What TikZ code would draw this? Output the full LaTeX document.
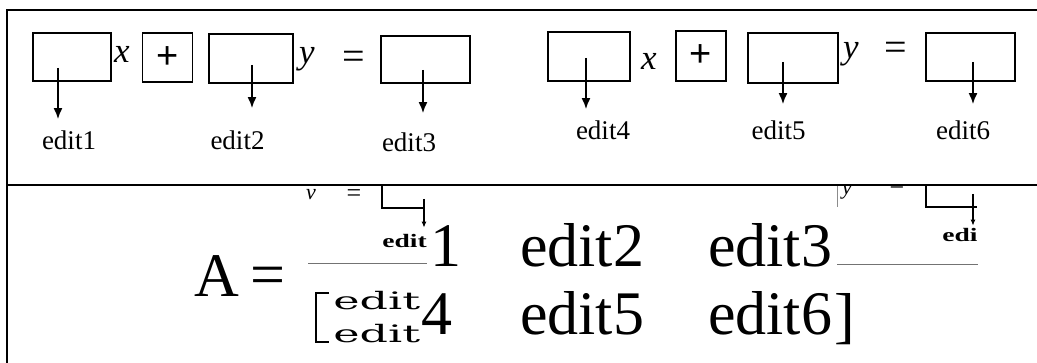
\documentclass[tikz,border=0pt]{standalone}
\usepackage{fontspec}
\setmainfont{Liberation Serif}
\newfontfamily\plusfont{Liberation Sans}
\newfontfamily\wideserif{DejaVu Serif}
\usetikzlibrary{arrows.meta}
\begin{document}
\begin{tikzpicture}[x=1pt,y=-1pt,
  rule/.style={line width=1.6pt},
  slot/.style={draw,line width=1.6pt,inner sep=0pt,minimum width=#1,minimum height=48pt},
  opbox/.style={draw,line width=1.6pt,inner sep=0pt,minimum width=50pt,minimum height=49pt,
                font=\plusfont\fontsize{38}{38}\selectfont},
  var/.style={inner sep=0pt,anchor=base west,font=\fontsize{35}{35}\selectfont\itshape},
  rel/.style={inner sep=0pt,font=\fontsize{40}{40}\selectfont},
  lbl/.style={inner sep=0pt,anchor=base,font=\fontsize{27}{27}\selectfont},
  pointer/.style={line width=1.6pt,-{Latex[length=11pt,width=9pt]}},
  big/.style={inner sep=0pt,anchor=base west,font=\fontsize{62}{62}\selectfont},
  wide/.style={inner sep=0pt,anchor=base west,font=\wideserif\fontsize{24}{24}\selectfont},
  ghost/.style={line width=1.1pt},
  ghostpointer/.style={line width=1.1pt,-{Latex[length=6pt,width=5pt]}},
  ghosttext/.style={inner sep=0pt,anchor=base west,font=\bfseries\fontsize{19}{19}\selectfont},
  ghostvar/.style={inner sep=0pt,anchor=base west,font=\fontsize{22}{22}\selectfont\itshape},
  ghostrel/.style={inner sep=0pt,font=\fontsize{26}{26}\selectfont},
  fracline/.style={line width=1pt,draw=black!55}]
\useasboundingbox (0,0) rectangle (1037,363);
\fill[white] (0,0) rectangle (1037,363);

% table rules
\coordinate (tl) at (7,10);
\coordinate (tr) at (1037,10);
\coordinate (ml) at (7,185);
\coordinate (mr) at (1037,185);
\coordinate (bl) at (7,363);
\draw[rule] (tr) -- (tl) -- (bl);
\draw[rule] (ml) -- (mr);

% ---- first equation: edit1 x + edit2 y = edit3
\node[slot=78pt] (b1) at (72,57) {};
\node[var] (x1) at (114,63) {x};
\node[opbox] (p1) at (167.5,57.5) {+};
\node[slot=84pt,minimum height=49pt] (b2) at (251,58.5) {};
\node[var] (y1) at (299,64) {y};
\node[rel] (q1) at (354,60) {=};
\node[slot=89pt,minimum height=47pt] (b3) at (425.5,59.5) {};

\node[lbl] (e1) at (69,150) {edit1};
\node[lbl] (e2) at (237.5,150) {edit2};
\node[lbl] (e3) at (409,152) {edit3};

\coordinate (a1) at (58,68);
\coordinate (a2) at (252,65);
\coordinate (a3) at (423,70);
\draw[pointer,shorten >=12pt] (a1) -- (a1 |- e1.north);
\draw[pointer,shorten >=23pt] (a2) -- (a2 |- e2.north);
\draw[pointer,shorten >=20pt] (a3) -- (a3 |- e3.north);

% ---- second equation: edit4 x + edit5 y = edit6
\node[slot=82pt,minimum height=49pt] (b4) at (589,56.5) {};
\node[var] (x2) at (641,70) {x};
\node[opbox,minimum height=50pt] (p2) at (701,56) {+};
\node[slot=90pt,minimum height=50pt] (b5) at (793,58) {};
\node[var] (y2) at (843,59) {y};
\node[rel] (q2) at (896,51) {=};
\node[slot=89pt] (b6) at (970.5,57) {};

\node[lbl] (e4) at (603,140) {edit4};
\node[lbl] (e5) at (778.5,140) {edit5};
\node[lbl] (e6) at (963,140) {edit6};

\coordinate (a4) at (586,58);
\coordinate (a5) at (783,62);
\coordinate (a6) at (973,62);
\draw[pointer,shorten >=12pt] (a4) -- (a4 |- e4.north);
\draw[pointer,shorten >=17pt] (a5) -- (a5 |- e5.north);
\draw[pointer,shorten >=17pt] (a6) -- (a6 |- e6.north);

% ---- lower cell: remnants of the equations above, cut at the rule
\begin{scope}
\clip (8,186.5) rectangle (1037,363);
% left remnant
\node[ghostvar] (gv) at (306,200) {v};
\node[ghostrel] (gq) at (354,196) {=};
\coordinate (gc1) at (382,180);
\coordinate (gc2) at (382,208);
\coordinate (gc3) at (425,208);
\draw[ghost] (gc1) -- (gc2) -- (gc3);
\node[ghosttext,xscale=1.45] (gt) at (382,248) {edit};
\coordinate (ga) at (424,199);
\draw[ghostpointer,shorten >=7pt] (ga) -- (ga |- gt.north);
% right remnant
\coordinate (hv1) at (837,180);
\coordinate (hv2) at (837,207);
\draw[line width=0.8pt,draw=black!45] (hv1) -- (hv2);
\node[ghostvar] (hy) at (842,195) {y};
\node[ghostrel] (hq) at (897,188) {=};
\coordinate (hc1) at (926,180);
\coordinate (hc2) at (926,207);
\coordinate (hc3) at (977,207);
\draw[ghost] (hc1) -- (hc2) -- (hc3);
\node[ghosttext,xscale=1.45] (ht) at (942,242) {edi};
\coordinate (ha) at (973,194);
\draw[ghostpointer,shorten >=3pt] (ha) -- (ha |- ht.north);
\end{scope}

% grey bars
\coordinate (f1) at (308,264);
\coordinate (f2) at (427,264);
\coordinate (f3) at (837,265);
\coordinate (f4) at (978,265);
\draw[fracline] (f1) -- (f2);
\draw[fracline] (f3) -- (f4);

% ---- A = [ ... ]
\node[big] (A) at (194,297) {A};
\node[big] (eq) at (250,296) {=};
\node[big] (m1) at (430,267) {1};
\node[big] (m2) at (520,267) {edit2};
\node[big] (m3) at (708,267) {edit3};
\node[big] (m4) at (421,335) {4};
\node[big] (m5) at (520,335) {edit5};
\node[big] (m6) at (708,335) {edit6};
\node[big] (rb) at (834,337) {]};

% small stacked entries with their bracket
\coordinate (k1) at (329,293);
\coordinate (k2) at (316,293);
\coordinate (k3) at (316,342);
\coordinate (k4) at (329,342);
\draw[line width=2.6pt] (k1) -- (k2) -- (k3) -- (k4);
\node[wide,xscale=1.85] (s1) at (333,310) {edit};
\node[wide,xscale=1.85] (s2) at (333,343) {edit};
\end{tikzpicture}
\end{document}
